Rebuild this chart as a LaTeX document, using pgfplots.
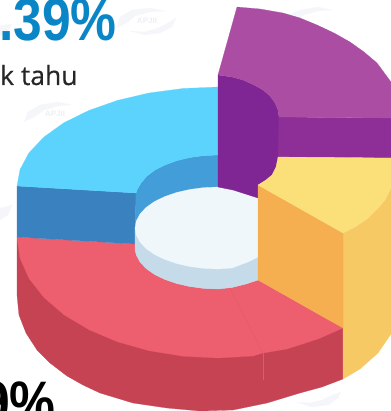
\documentclass[border=0pt]{standalone}
\usepackage{pgfplots}
\pgfplotsset{compat=1.18}
\usepackage{fontspec}
\setmainfont{Liberation Sans}
\newfontfamily\tahufont[FakeBold=0.4]{Open Sans}
\definecolor{wm}{HTML}{F4F6FA}
\definecolor{wmt}{HTML}{ECEFF4}
\definecolor{ltblue}{HTML}{5CD3FD}
\definecolor{wallblue}{HTML}{429DD9}
\definecolor{darkblue}{HTML}{3A82BF}
\definecolor{redtop}{HTML}{ED5E6F}
\definecolor{redside}{HTML}{C54353}
\definecolor{redseam}{HTML}{E2596A}
\definecolor{orangewall}{HTML}{F5AE50}
\definecolor{yellowside}{HTML}{F7C964}
\definecolor{yellowtop}{HTML}{FBE07A}
\definecolor{purptop}{HTML}{AB4DA3}
\definecolor{purpband}{HTML}{8D2F96}
\definecolor{purpwall}{HTML}{7F2594}
\definecolor{hole}{HTML}{EFF7FB}
\definecolor{rim}{HTML}{C5DBEA}
\definecolor{numblue}{HTML}{0A85C6}
\pgfplotsset{pc/.style={fill=#1,draw=#1,line width=0.2pt}}
\begin{document}
\begin{tikzpicture}
\useasboundingbox (0,0) rectangle (391bp,411bp);
\begin{axis}[scale only axis,width=391bp,height=411bp,xmin=0,xmax=391,ymin=0,ymax=411,y dir=reverse,hide axis,no markers]
% watermarks
\addplot[pc=wm] coordinates {(117,28)(120,17)(132,10)(150,8)(165,11)(150,12)(135,16)(128,22)} --cycle;
\addplot[pc=wm] coordinates {(176,18)(172,27)(160,33)(145,35)(130,31)(145,32)(158,28)(166,24)} --cycle;
\addplot[pc=wm] coordinates {(24,122)(28,112)(40,105)(58,102)(72,105)(58,106)(44,110)(36,116)} --cycle;
\addplot[pc=wm] coordinates {(283,24)(288,15)(300,10)(318,7)(332,10)(318,11)(304,15)(296,20)} --cycle;
\addplot[pc=wm] coordinates {(297,402)(312,407)(328,405)(338,398)(341,392)(330,396)(322,400)(310,403)} --cycle;
\addplot[pc=wm] coordinates {(0,220)(8,215)(12,205)(5,207)(0,208)} --cycle;
\addplot[pc=wm] coordinates {(0,36)(8,31)(12,24)(5,25)(0,26)} --cycle;
\node[text=wmt,inner sep=0pt] at (axis cs:147,21) {\fontsize{8bp}{8bp}\selectfont\bfseries APJII};
\node[text=wmt,inner sep=0pt] at (axis cs:55,114) {\fontsize{8bp}{8bp}\selectfont\bfseries APJII};
% red side
\addplot[pc=redside] coordinates {(17,237)(17,295)(19,315)(26,333)(37,350)(50,363)(67,376)(83,385)(100,393)(133,403)(167,408)(200,411)(233,410)(267,403)(300,393)(322,387)(343,379)(343,325)(218,300)} --cycle;
\addplot[draw=redseam,line width=0.3pt] coordinates {(263,353)(263,380)};
% red top
\addplot[pc=redtop] coordinates {(17,237)(135,244)(135,250)(136.3,255)(140,262)(146,268.5)(154.4,274.4)(164.6,279.4)(176.5,283.5)(189.6,286.5)(203.6,288.4)(218,289)(232,287.5)(246,284)(258,280)(343,328)(318,339)(287,349)(263,353)(253,356)(218,358)(183,356.2)(149,350.7)(117.5,341.8)(89,329.7)(64,314.8)(44,297.5)(29,278.4)(20,258)} --cycle;
\addplot[draw=redseam,line width=0.3pt] coordinates {(230,288)(263,353)};
% blue
\addplot[pc=darkblue] coordinates {(17,186)(136,193)(135,244)(17,237)} --cycle;
\addplot[pc=wallblue] coordinates {(136,193)(137,190)(141,183)(147,176)(155,170)(165,165)(177,160.6)(190,157.5)(204,155.6)(218,155)(218,195)(135,235)} --cycle;
\addplot[pc=ltblue] coordinates {(17,186)(20,169.6)(29,152.8)(44,137)(64,122.7)(89,110.4)(117.5,100.4)(149,93)(183,88.5)(218,87)(218,155)(204,155.6)(190,157.5)(177,160.6)(165,165)(155,170)(147,176)(141,183)(137,190)(136,193)} --cycle;
% hole rim and hole
\addplot[pc=rim] coordinates {(135,228)(135,250)(136.3,255)(140,262)(146,268.5)(154.4,274.4)(164.6,279.4)(176.5,283.5)(189.6,286.5)(203.6,288.4)(218,289)(232,287.5)(246,284)(258,280)(258,230)} --cycle;
\addplot[pc=hole] coordinates {(135,228)(136.3,221)(140,214)(146,207.5)(154.4,201.6)(164.6,196.6)(176.5,192.5)(189.6,189.5)(203.6,187.6)(218,187)(233,190)(258,198)(258,257)(248,262)(232,268)(218,269)(203.6,268.4)(189.6,266.5)(176.5,263.5)(164.6,259.4)(154.4,254.4)(146,248.5)(140,242)(136.3,235)} --cycle;
% purple
\addplot[pc=purpwall] coordinates {(218,75)(232,77)(243,80)(254,85)(263,90)(270,96)(275,103)(278,110)(279,117)(279,157)(276,167)(272,175)(266,180)(258,185)(258,198)(233,190)(218,187)} --cycle;
\addplot[pc=purpband] coordinates {(279,117)(391,118)(391,158)(278,157)} --cycle;
\addplot[pc=purptop] coordinates {(237,7)(260,9)(283,13)(300,18)(317,25)(334,33)(350,42)(364,52)(377,63)(391,82)(391,118)(279,117)(278,110)(275,103)(270,96)(263,90)(254,85)(243,80)(232,77)(218,75)} --cycle;
% yellow and orange
\addplot[pc=yellowside] coordinates {(343,233)(355,227)(367,219)(378,208)(385,200)(391,188)(391,334)(378,353)(360,369)(343,379)} --cycle;
\addplot[pc=orangewall] coordinates {(258,185)(343,233)(343,328)(258,280)} --cycle;
\addplot[pc=yellowtop] coordinates {(258,185)(266,180)(272,175)(276,167)(278,157)(391,158)(391,188)(385,200)(378,208)(367,219)(355,227)(343,233)} --cycle;
% text
\node[anchor=base west,inner sep=0pt,text=numblue] at (axis cs:-1,41) {\fontsize{60bp}{60bp}\selectfont\bfseries\scalebox{0.86}[1]{.39\%}};
\node[anchor=base west,inner sep=0pt,text=black!85] at (axis cs:0,85) {\fontsize{26.5bp}{26.5bp}\selectfont\tahufont k tahu};
\node[anchor=base west,inner sep=0pt,text=black] at (axis cs:-19,423) {\fontsize{60bp}{60bp}\selectfont\bfseries\scalebox{0.86}[1]{9\%}};
\end{axis}
\end{tikzpicture}
\end{document}
